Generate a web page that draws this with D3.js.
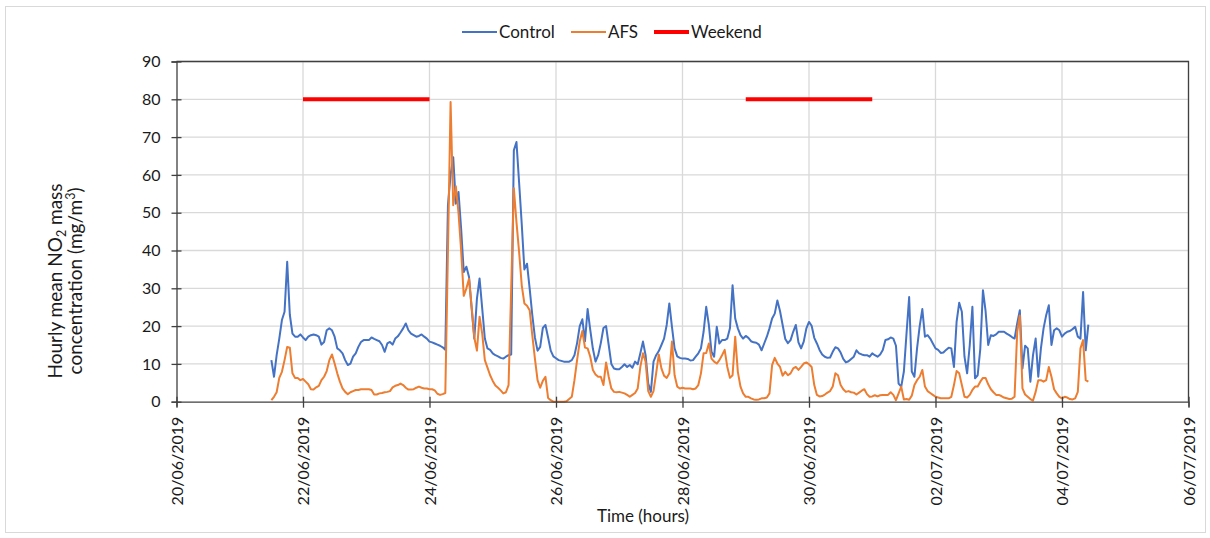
<!DOCTYPE html>
<html>
<head>
<meta charset="utf-8">
<script src="https://cdn.jsdelivr.net/npm/d3@7"></script>
<style>
  html, body { margin: 0; padding: 0; background: #fff; }
  svg { display: block; font-family: Lato, "Open Sans", sans-serif; }
</style>
</head>
<body>
<svg id="chart" width="1210" height="538"></svg>
<script>
// Hourly series start at 21/06/2019 12:00, one value per hour
const seriesStart = "21/06/2019 12:00";

const control = [
  11, 6.6, 12.3, 16.7, 21.6, 23.8, 37, 23, 18, 17.2, 17.2, 17.8,
  17, 16.3, 17.2, 17.6, 17.8, 17.6, 17.2, 15.1, 15.8, 18.9, 19.4, 18.9,
  17.2, 14.1, 13.6, 12.8, 11, 9.7, 10.1, 11.9, 12.8, 14.5, 15.8, 16.3,
  16.3, 16.3, 17, 16.6, 16.3, 16, 15, 13.2, 15.4, 15.8, 15.1, 16.7,
  17.3, 18.3, 19.4, 20.7, 18.9, 18, 17.6, 17.2, 17.4, 17.8, 17.2, 16.7,
  15.9, 15.7, 15.4, 15.1, 14.8, 14.4, 13.7, 52, 60, 64.7, 52.4, 55.5,
  45.8, 34.3, 35.7, 33, 24.7, 16.7, 27.3, 32.6, 24.7, 16.7, 14.1, 13.7,
  12.8, 12.3, 12, 11.6, 11.4, 11.9, 12.3, 12.5, 66.5, 68.7, 58, 47,
  35, 36.5, 30, 23, 17, 13.5, 14.5, 19.5, 20.3, 17, 13.5, 12,
  11.5, 11, 10.8, 10.6, 10.6, 10.6, 11, 12.3, 15.5, 20, 21.8, 16,
  24.5, 19, 14, 10.6, 12.3, 15.5, 19.5, 20, 15, 10, 8.8, 8.6,
  8.6, 9.2, 9.9, 9.2, 9.7, 9, 10.6, 9.9, 12.8, 15.9, 12.3, 4.8,
  2.6, 10.6, 12.3, 13.4, 15, 16.7, 20.3, 26, 19.8, 14.1, 12, 11.6,
  11.4, 11.4, 11.3, 10.9, 11, 11.9, 12.8, 14.1, 18.5, 25.1, 20.3, 13.2,
  11.9, 19.8, 15.4, 16.3, 16.3, 16.7, 19.4, 30.8, 22, 19.4, 17.6, 16.7,
  17.4, 16.9, 16, 15.7, 15.6, 15.1, 13.6, 15.4, 17.2, 19.4, 22, 23.3,
  26.8, 24, 20.3, 16.6, 15.5, 16.3, 18.5, 20.3, 15.7, 14.1, 15.9, 19.4,
  21.1, 20.1, 16.9, 15.4, 13.7, 12.5, 11.9, 11.6, 11.7, 13.2, 14.4, 14.1,
  13, 11.3, 10.4, 10.7, 11.3, 11.9, 13.6, 12.8, 12.5, 12.3, 12.3, 11.9,
  12.8, 12.3, 11.9, 12.5, 13.7, 16.3, 16.5, 17, 16.7, 14.8, 4.8, 4,
  8, 18, 27.7, 8, 6.6, 14.1, 20, 24.5, 17.2, 17.6, 16.7, 15.4,
  14.1, 13.7, 12.9, 13, 13.7, 14.3, 14.1, 9.2, 21.1, 26.2, 23.8, 11.9,
  7.5, 15, 25.1, 6.2, 7, 14, 29.5, 24, 15, 17.6, 17.4, 17.8,
  18.5, 18.5, 18.5, 18, 17.6, 17.1, 16.7, 20.7, 24.2, 8.8, 14.8, 14.1,
  5.3, 12.3, 16.7, 6.6, 14.1, 19.4, 22.9, 25.5, 15, 18.9, 19.4, 18.9,
  17.2, 18, 18.5, 18.7, 19.2, 19.8, 17.2, 16.7, 29, 13.6, 20.4
];

const afs = [
  0.4, 1.3, 2.5, 6.3, 7.9, 11, 14.5, 14.3, 7.5, 6.3, 6.3, 5.7,
  6, 5.3, 4.6, 3.3, 3.2, 3.8, 4.2, 5.7, 6.6, 8.1, 11, 12.5,
  10.1, 7.5, 5.3, 3.5, 2.6, 2, 2.5, 2.8, 3.1, 3.1, 3.3, 3.3,
  3.3, 3.3, 3.1, 1.9, 1.9, 2.2, 2.3, 2.5, 2.6, 2.8, 3.8, 4.2,
  4.4, 4.8, 4.4, 3.7, 3.2, 3.2, 3.3, 3.7, 4, 3.7, 3.5, 3.5,
  3.3, 3.3, 3, 2.1, 1.8, 2, 2.3, 40, 79.3, 52, 57, 50,
  40, 28, 30, 32.5, 25, 17, 13.5, 22.5, 18, 11, 9, 7,
  5.5, 4.3, 3.7, 3, 2.2, 2.5, 4.4, 30, 56.5, 47.5, 39.6, 30.8,
  26, 25.4, 24.2, 17.6, 11.4, 5.7, 3.7, 5.5, 6.6, 1, 0.4, 0,
  0, 0, 0, 0, 0.1, 0.7, 1.3, 5.7, 11, 15.9, 18.7, 14.3,
  14.1, 11.9, 8.4, 7.2, 6.6, 6.6, 4.4, 10.4, 6.6, 3.5, 2.6, 2.5,
  2.6, 2.4, 2.2, 1.8, 1.3, 1.8, 2.3, 3.5, 9.2, 12.8, 10.6, 2.8,
  1.3, 2.8, 7.5, 12.5, 8.8, 6.9, 6.3, 7.5, 15.9, 7, 4, 3.5,
  3.7, 3.5, 3.5, 3.5, 3.3, 3.5, 4.4, 7.5, 12.8, 12.9, 15.4, 11.4,
  10.6, 10.1, 11, 12.3, 13.7, 9.2, 6.3, 7, 17.2, 7.9, 4, 2.2,
  1.3, 1.3, 0.9, 0.6, 0.5, 0.6, 0.9, 0.9, 1.1, 2.2, 9.7, 11.6,
  10.1, 9.2, 6.9, 7.9, 7, 7.5, 8.8, 9.2, 8.4, 9.2, 10.1, 10.4,
  9.9, 9.2, 4.4, 1.8, 1.4, 1.5, 1.9, 2.4, 2.8, 4, 7.5, 7,
  4.4, 3.3, 2.6, 2.8, 2.5, 2.4, 1.9, 2.4, 2.9, 3.3, 2, 1.3,
  1.4, 1.7, 1.4, 1.7, 1.8, 1.8, 1.8, 2.5, 1.8, 0.4, 2.2, 4,
  0.6, 0.7, 0.5, 1.6, 4.4, 5.7, 6.6, 8.4, 4, 2.8, 2.3, 1.8,
  1.3, 1.1, 0.9, 0.9, 0.9, 0.9, 1.3, 4.4, 8.1, 7.5, 4.4, 1.3,
  1.1, 1.8, 3.1, 4, 4, 5.3, 6.3, 6.3, 4.6, 3.3, 2.5, 1.8,
  1.8, 1.5, 1.1, 0.9, 0.7, 0.8, 1.3, 18.5, 22.8, 3.5, 1.9, 1.3,
  0.7, 0.3, 2.6, 5.7, 5.7, 5.3, 5.7, 9.2, 6.6, 3.3, 2.2, 1.3,
  0.9, 1.3, 1.1, 0.7, 0.6, 0.9, 2.6, 14.1, 16.3, 5.7, 5.3
];

// Weekend periods (start, end) drawn at a constant level
const weekendPeriods = [
  ["22/06/2019 00:00", "24/06/2019 00:00"],
  ["29/06/2019 00:00", "01/07/2019 00:00"]
];
const weekendLevel = 80;

const xTickLabels = ["20/06/2019", "22/06/2019", "24/06/2019", "26/06/2019", "28/06/2019",
                     "30/06/2019", "02/07/2019", "04/07/2019", "06/07/2019"];
const yTicks = [0, 10, 20, 30, 40, 50, 60, 70, 80, 90];

const seriesNames = ["Control", "AFS", "Weekend"];
const colors = { Control: "#4472C4", AFS: "#ED7D31", Weekend: "#FF0000" };

const parseDT = d3.timeParse("%d/%m/%Y %H:%M");
const parseD = d3.timeParse("%d/%m/%Y");

const t0 = parseDT(seriesStart);
const hourAt = i => d3.timeHour.offset(t0, i);

const svg = d3.select("#chart");
const W = 1210, H = 538;
const plot = { left: 176.5, right: 1188.5, top: 61.5, bottom: 401.7 };

// outer chart frame
svg.append("rect")
  .attr("x", 5.5).attr("y", 6.5).attr("width", W - 10).attr("height", H - 12)
  .attr("fill", "none").attr("stroke", "#d9d9d9").attr("stroke-width", 1);

const x = d3.scaleTime()
  .domain([parseD(xTickLabels[0]), parseD(xTickLabels[xTickLabels.length - 1])])
  .range([plot.left, plot.right]);
const y = d3.scaleLinear().domain([0, 90]).range([plot.bottom, plot.top]);

const xTickDates = xTickLabels.map(parseD);

// gridlines
const grid = svg.append("g");
grid.selectAll("line.h").data(yTicks.slice(1)).join("line")
  .attr("x1", plot.left).attr("x2", plot.right)
  .attr("y1", d => y(d)).attr("y2", d => y(d))
  .attr("stroke", "#d9d9d9").attr("stroke-width", 1.3);
grid.selectAll("line.v").data(xTickDates.slice(1)).join("line")
  .attr("x1", d => x(d)).attr("x2", d => x(d))
  .attr("y1", plot.top).attr("y2", plot.bottom)
  .attr("stroke", "#d9d9d9").attr("stroke-width", 1.3);

// plot frame (top and right edges)
svg.append("path")
  .attr("d", `M${plot.left},${plot.top}H${plot.right}V${plot.bottom}`)
  .attr("fill", "none").attr("stroke", "#404040").attr("stroke-width", 1.3);

// weekend bars
svg.append("g").selectAll("line").data(weekendPeriods).join("line")
  .attr("x1", d => x(parseDT(d[0]))).attr("x2", d => x(parseDT(d[1])))
  .attr("y1", y(weekendLevel)).attr("y2", y(weekendLevel))
  .attr("stroke", colors.Weekend).attr("stroke-width", 4);

// series lines
const line = d3.line().x((d, i) => x(hourAt(i))).y(d => y(d));
svg.append("path").datum(control)
  .attr("d", line).attr("fill", "none")
  .attr("stroke", colors.Control).attr("stroke-width", 2).attr("stroke-linejoin", "round");
svg.append("path").datum(afs)
  .attr("d", line).attr("fill", "none")
  .attr("stroke", colors.AFS).attr("stroke-width", 2).attr("stroke-linejoin", "round");

// y axis
const yAxis = svg.append("g").attr("transform", `translate(${plot.left},0)`)
  .call(d3.axisLeft(y).tickValues(yTicks).tickSize(5).tickPadding(11));
yAxis.select(".domain").attr("stroke", "#404040").attr("stroke-width", 1.3);
yAxis.selectAll(".tick line").attr("stroke", "#404040").attr("stroke-width", 1.3).attr("x2", -5).attr("x1", 5);
yAxis.selectAll(".tick text").attr("font-size", 16).attr("fill", "#1a1a1a").attr("font-family", "Lato");

// x axis
const xAxis = svg.append("g").attr("transform", `translate(0,${plot.bottom})`)
  .call(d3.axisBottom(x).tickValues(xTickDates).tickSize(5).tickFormat(d3.timeFormat("%d/%m/%Y")));
xAxis.select(".domain").attr("stroke", "#404040").attr("stroke-width", 1.3);
xAxis.selectAll(".tick line").attr("stroke", "#404040").attr("stroke-width", 1.3).attr("y1", -5).attr("y2", 6);
xAxis.selectAll(".tick text")
  .attr("font-size", 16).attr("fill", "#1a1a1a").attr("font-family", "Lato")
  .attr("text-anchor", "end")
  .attr("transform", "translate(0,15) rotate(-90)")
  .attr("x", 0).attr("y", 0).attr("dy", "0.35em");

// axis titles
const yTitle = svg.append("text")
  .attr("transform", "translate(62,281) rotate(-90)")
  .attr("text-anchor", "middle").attr("font-size", 19).attr("fill", "#1a1a1a");
yTitle.append("tspan").attr("x", 0).attr("dy", 0).text("Hourly mean NO");
yTitle.append("tspan").attr("font-size", 12.5).attr("dy", 4).text("2");
yTitle.append("tspan").attr("dy", -4).text(" mass");

const yTitle2 = svg.append("text")
  .attr("transform", "translate(82,281) rotate(-90)")
  .attr("text-anchor", "middle").attr("font-size", 19).attr("fill", "#1a1a1a");
yTitle2.append("tspan").text("concentration (mg/m");
yTitle2.append("tspan").attr("font-size", 12.5).attr("dy", -7).text("3");
yTitle2.append("tspan").attr("dy", 7).text(")");

svg.append("text")
  .attr("x", 643).attr("y", 522).attr("text-anchor", "middle")
  .attr("font-size", 17).attr("fill", "#1a1a1a").text("Time (hours)");

// legend
const legendItems = [
  { name: seriesNames[0], x: 462, w: 2 },
  { name: seriesNames[1], x: 571, w: 2 },
  { name: seriesNames[2], x: 654, w: 4 }
];
const lg = svg.append("g").attr("transform", "translate(0,32)");
legendItems.forEach(it => {
  lg.append("line").attr("x1", it.x).attr("x2", it.x + 35).attr("y1", 0).attr("y2", 0)
    .attr("stroke", colors[it.name]).attr("stroke-width", it.w);
  lg.append("text").attr("x", it.x + 37).attr("y", 0).attr("dy", "0.35em")
    .attr("font-size", 17).attr("fill", "#1a1a1a").text(it.name);
});
</script>
</body>
</html>
